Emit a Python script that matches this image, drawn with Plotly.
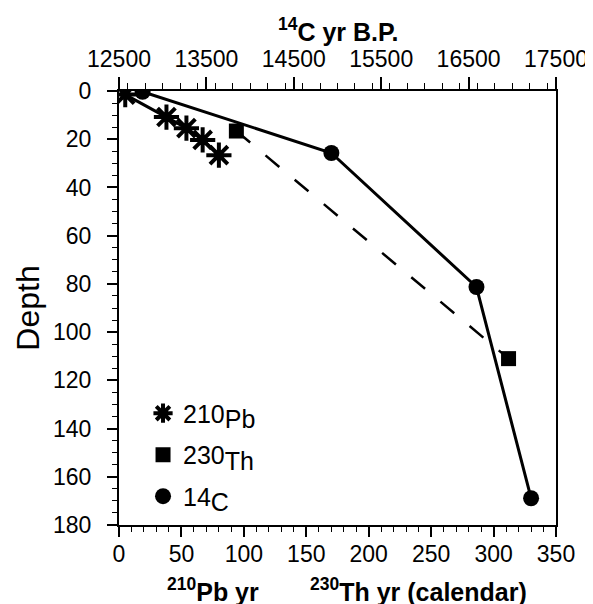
import plotly.graph_objects as go

# 210Pb ages (yr) vs depth
pb_yr = [5, 38, 54, 67, 80]
pb_depth = [1.5, 10.8, 15.4, 20.3, 26.6]

# 230Th ages (calendar yr) vs depth
th_yr = [94, 312]
th_depth = [16.6, 111]

# 14C ages (yr B.P.) vs depth
c14_yr = [12770, 14930, 16590, 17215]
c14_depth = [0.3, 25.7, 81.3, 168.9]

FONT = "Liberation Sans, Arial, sans-serif"

fig = go.Figure()

# connecting lines (no legend entry)
fig.add_trace(go.Scatter(x=th_yr, y=th_depth, mode="lines", showlegend=False,
                         line=dict(color="black", width=2.5, dash="18px,20px")))
fig.add_trace(go.Scatter(x=c14_yr, y=c14_depth, xaxis="x2", mode="lines", showlegend=False,
                         line=dict(color="black", width=3)))
fig.add_trace(go.Scatter(x=pb_yr, y=pb_depth, mode="lines", showlegend=False,
                         line=dict(color="black", width=3)))

# markers
fig.add_trace(go.Scatter(
    x=pb_yr, y=pb_depth, mode="markers", name="210<sub><span style='font-size:25px'>Pb</span></sub>",
    marker=dict(symbol="asterisk-open", size=21, color="black", line=dict(color="black", width=4)),
    legendgroup="a"))
fig.add_trace(go.Scatter(
    x=th_yr, y=th_depth, mode="markers", name="230<sub><span style='font-size:25px'>Th</span></sub>",
    marker=dict(symbol="square", size=15, color="black"),
    legendgroup="b"))
fig.add_trace(go.Scatter(
    x=c14_yr, y=c14_depth, xaxis="x2", mode="markers", name="14<sub><span style='font-size:25px'>C</span></sub>",
    marker=dict(symbol="circle", size=16, color="black"),
    legendgroup="c"))

tick_font = dict(family=FONT, size=23, color="black")

fig.update_layout(
    width=593, height=604,
    margin=dict(l=111, r=45, t=83, b=87),
    paper_bgcolor="white", plot_bgcolor="white",
    font=dict(family=FONT, color="black"),
    showlegend=True,
    legend=dict(x=0.055, y=0.31, xanchor="left", yanchor="top",
                font=dict(family=FONT, size=25, color="black"),
                bgcolor="rgba(0,0,0,0)", traceorder="grouped", tracegroupgap=6),
    xaxis=dict(range=[0, 350], tickvals=[0, 50, 100, 150, 200, 250, 300, 350],
               ticks="outside", ticklen=10, tickwidth=1.5, tickcolor="black",
               minor=dict(dtick=10, ticks="outside", ticklen=5, tickwidth=1.2, tickcolor="black"),
               showline=True, linecolor="black", linewidth=2, showgrid=False, zeroline=False,
               tickfont=tick_font, ticklabelstandoff=-3),
    xaxis2=dict(range=[12500, 17500], overlaying="x", side="top",
                tickvals=[12500, 13500, 14500, 15500, 16500, 17500], tickformat="d",
                ticks="outside", ticklen=12, tickwidth=1.5, tickcolor="black",
                minor=dict(dtick=200, ticks="outside", ticklen=6, tickwidth=1.2, tickcolor="black"),
                showline=True, linecolor="black", linewidth=2, showgrid=False, zeroline=False,
                tickfont=tick_font, ticklabelstandoff=1),
    yaxis=dict(range=[180, 0], tickvals=list(range(0, 181, 20)),
               ticks="outside", ticklen=10, tickwidth=1.5, tickcolor="black",
               minor=dict(dtick=5, ticks="outside", ticklen=5, tickwidth=1.2, tickcolor="black"),
               showline=True, linecolor="black", linewidth=2, mirror=True,
               showgrid=False, zeroline=False, tickfont=tick_font, ticklabelstandoff=11,
               title=dict(text="Depth", font=dict(family=FONT, size=32), standoff=4)),
    annotations=[
        dict(text="<b><sup>14</sup>C yr B.P.</b>", x=0.5, y=1.14, xref="paper", yref="paper",
             xanchor="center", yanchor="middle", showarrow=False,
             font=dict(family=FONT, size=25, color="black")),
        dict(text="<b><sup>210</sup>Pb yr</b>", x=0.215, y=-0.15, xref="paper", yref="paper",
             xanchor="center", yanchor="middle", showarrow=False,
             font=dict(family=FONT, size=25, color="black")),
        dict(text="<b><sup>230</sup>Th yr (calendar)</b>", x=0.685, y=-0.15, xref="paper", yref="paper",
             xanchor="center", yanchor="middle", showarrow=False,
             font=dict(family=FONT, size=25, color="black")),
    ],
)

fig.write_html("out.html")
